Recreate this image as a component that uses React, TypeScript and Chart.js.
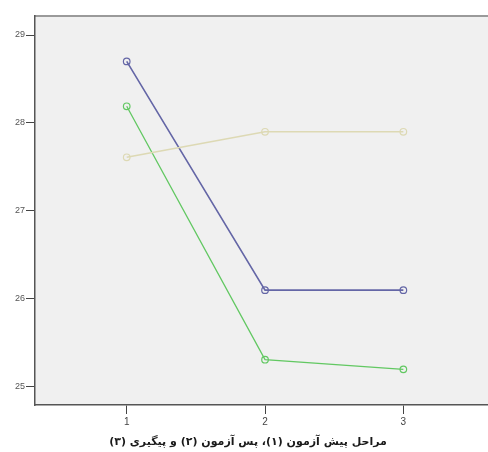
import React, { useEffect, useRef } from "react";
import { Chart, registerables } from "chart.js";

Chart.register(...registerables);

const stages = [1, 2, 3];
const seriesBlue = [28.7, 26.1, 26.1];
const seriesGreen = [28.19, 25.31, 25.2];
const seriesBeige = [27.61, 27.9, 27.9];
const yTicks = [25, 26, 27, 28, 29];
const xTitle = "مراحل پیش آزمون (۱)، پس آزمون (۲) و پیگیری (۳)";

const bgPlugin = {
  id: "plotBg",
  beforeDraw(chart: any) {
    const { ctx, chartArea } = chart;
    ctx.save();
    ctx.fillStyle = "#f0f0f0";
    ctx.fillRect(chartArea.left, chartArea.top, chartArea.right - chartArea.left, chartArea.bottom - chartArea.top);
    ctx.strokeStyle = "#9a9a9a";
    ctx.lineWidth = 2;
    ctx.beginPath();
    ctx.moveTo(chartArea.left, chartArea.top);
    ctx.lineTo(chartArea.right, chartArea.top);
    ctx.stroke();
    ctx.restore();
  },
  afterDraw(chart: any) {
    const { ctx } = chart;
    ctx.save();
    ctx.fillStyle = "#1a1a1a";
    ctx.font = "bold 11px 'DejaVu Sans'";
    ctx.textAlign = "center";
    ctx.textBaseline = "middle";
    ctx.direction = "rtl";
    ctx.fillText(xTitle, 248, 442);
    ctx.restore();
  },
};

export default function App() {
  const ref = useRef<HTMLCanvasElement>(null);
  useEffect(() => {
    if (!ref.current) return;
    const mk = (vals: number[], color: string, w: number) => ({
      data: stages.map((s, i) => ({ x: s, y: vals[i] })),
      borderColor: color,
      borderWidth: w,
      pointBorderColor: color,
      pointBackgroundColor: "rgba(0,0,0,0)",
      pointRadius: 3.3,
      pointBorderWidth: 1.2,
      fill: false,
      tension: 0,
    });
    const chart = new Chart(ref.current, {
      type: "line",
      data: {
        datasets: [
          mk(seriesBeige, "#ddd9b4", 1.6),
          mk(seriesBlue, "#6466a6", 1.6),
          mk(seriesGreen, "#62c862", 1.3),
        ],
      },
      plugins: [bgPlugin],
      options: {
        animation: false,
        responsive: false,
        devicePixelRatio: 1,
        layout: { autoPadding: false, padding: { top: 16, left: 0, right: 0, bottom: 0 } },
        plugins: { legend: { display: false }, tooltip: { enabled: false } },
        scales: {
          x: {
            type: "linear",
            min: 0.337,
            max: 3.612,
            afterBuildTicks: (s: any) => {
              s.ticks = stages.map((v) => ({ value: v }));
            },
            afterFit: (s: any) => {
              s.height = 47;
              s.paddingLeft = 0;
              s.paddingRight = 0;
            },
            grid: { drawOnChartArea: false, tickLength: 9, color: "#444", lineWidth: 1 },
            border: { color: "#555", width: 1.5 },
            ticks: {
              color: "#444",
              font: { family: "Liberation Sans", size: 10 },
              padding: 2,
              callback: (v: any) => String(v),
            },
          },
          y: {
            type: "linear",
            min: 24.795,
            max: 29.216,
            afterBuildTicks: (s: any) => {
              s.ticks = yTicks.map((v) => ({ value: v }));
            },
            afterFit: (s: any) => {
              s.width = 35;
              s.paddingTop = 0;
              s.paddingBottom = 0;
            },
            grid: { drawOnChartArea: false, tickLength: 9, color: "#444", lineWidth: 1 },
            border: { color: "#555", width: 1.5 },
            ticks: {
              color: "#555",
              font: { family: "Liberation Sans", size: 9 },
              padding: 1,
              callback: (v: any) => String(v),
            },
          },
        },
      },
    } as any);
    return () => chart.destroy();
  }, []);
  return (
    <div style={{ position: "fixed", left: 0, top: 0, width: 488, height: 452, background: "#fff" }}>
      <canvas ref={ref} width={488} height={452} style={{ width: 488, height: 452 }} />
    </div>
  );
}
